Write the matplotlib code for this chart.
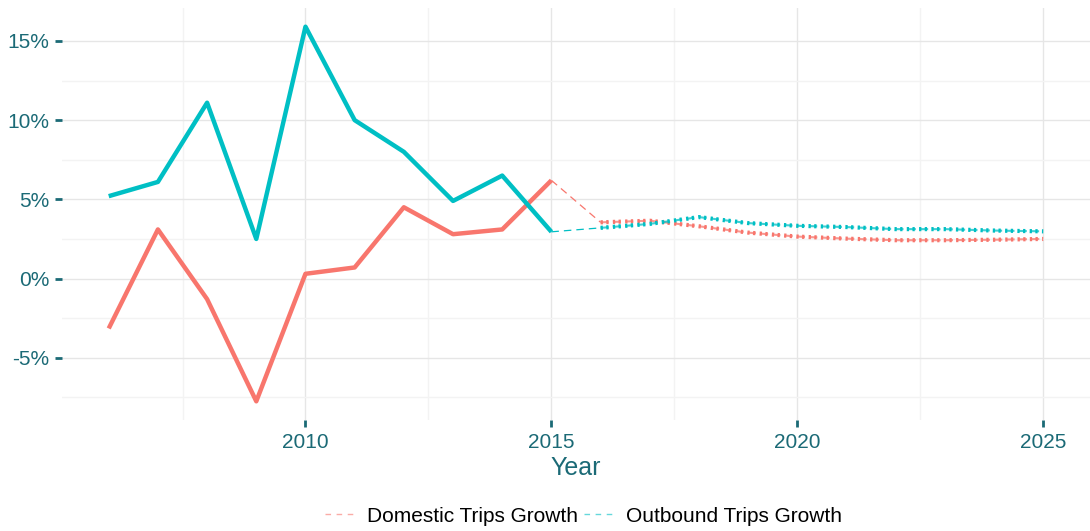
import matplotlib
matplotlib.use("Agg")
import matplotlib.pyplot as plt
from matplotlib.ticker import FuncFormatter, MultipleLocator
from matplotlib.lines import Line2D

plt.rcParams['font.family'] = ['Liberation Sans', 'DejaVu Sans']

hist_years = [2006, 2007, 2008, 2009, 2010, 2011, 2012, 2013, 2014, 2015]
domestic_hist = [-3.15, 3.1, -1.3, -7.75, 0.3, 0.7, 4.5, 2.8, 3.1, 6.2]
outbound_hist = [5.2, 6.1, 11.1, 2.5, 15.9, 10.0, 8.0, 4.9, 6.5, 2.95]

fc_years = [2016, 2017, 2018, 2019, 2020, 2021, 2022, 2023, 2024, 2025]
domestic_fc = [3.55, 3.65, 3.3, 2.9, 2.65, 2.52, 2.42, 2.42, 2.45, 2.5]
outbound_fc = [3.2, 3.45, 3.88, 3.5, 3.33, 3.25, 3.12, 3.12, 3.03, 2.98]

series_names = ["Domestic Trips Growth", "Outbound Trips Growth"]
RED = "#F8766D"
TEAL = "#00BFC4"
TXT = "#1b6a76"

fig = plt.figure(figsize=(10.9, 5.31), dpi=100)
ax = fig.add_axes([62/1090, 1 - 420/531, 1028/1090, 412/531])

for hist, fc, col in [(domestic_hist, domestic_fc, RED), (outbound_hist, outbound_fc, TEAL)]:
    ax.plot(hist_years, hist, color=col, lw=3.2, solid_capstyle='butt', zorder=3)
    ax.plot([hist_years[-1], fc_years[0]], [hist[-1], fc[0]], color=col, lw=0.9,
            ls=(0, (6, 4)), zorder=3)
    # forecast: "H"-shaped dotted pattern (thick ends, thinner middle)
    ax.plot(fc_years, fc, color=col, lw=3.0, ls=(0, (0.55, 0.82, 0.55, 1.03)),
            dash_capstyle='butt', zorder=3)
    ax.plot(fc_years, fc, color=col, lw=1.5, alpha=0.75, ls=(0, (3.85, 2.07)),
            dash_capstyle='butt', zorder=3)

ax.set_xlim(2005.05, 2025.95)
ax.set_ylim(-8.93, 17.08)
ax.xaxis.set_major_locator(MultipleLocator(5))
ax.xaxis.set_minor_locator(MultipleLocator(2.5))
ax.yaxis.set_major_locator(MultipleLocator(5))
ax.yaxis.set_minor_locator(MultipleLocator(2.5))
ax.yaxis.set_major_formatter(FuncFormatter(lambda v, p: f"{int(round(v))}%"))
ax.grid(which='major', color='#e6e6e6', lw=1.0)
ax.grid(which='minor', color='#f3f3f3', lw=1.0)
ax.set_axisbelow(True)
for s in ax.spines.values():
    s.set_visible(False)
ax.tick_params(which='major', length=5, width=2, color=TXT, labelcolor=TXT,
               labelsize=15, pad=4)
ax.tick_params(which='minor', length=0)
ax.set_xlabel("Year", color=TXT, fontsize=18, labelpad=3)

handles = [Line2D([], [], color=RED, lw=1.0, ls=(0, (4, 4)), alpha=0.6),
           Line2D([], [], color=TEAL, lw=1.0, ls=(0, (4, 4)), alpha=0.6)]
fig.legend(handles, series_names, loc='center', bbox_to_anchor=(0.5355, 1 - 516/531),
           ncol=2, frameon=False, fontsize=15, handlelength=1.5, handletextpad=0.5,
           columnspacing=0.3)

fig.savefig("out.png", dpi=100, facecolor='white')
